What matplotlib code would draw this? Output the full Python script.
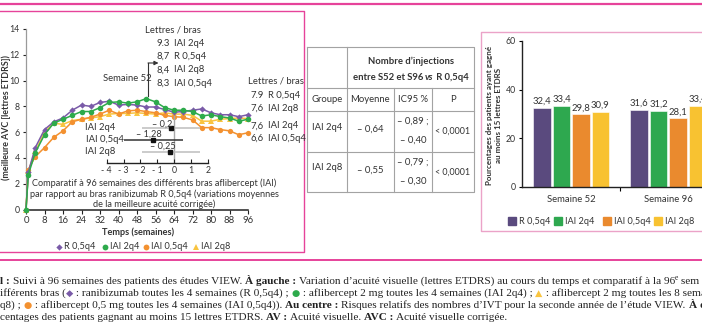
import matplotlib
matplotlib.use('Agg')
import matplotlib.pyplot as plt

W, H, DPI = 702, 336, 100

# ---------------- data ----------------
weeks = [0, 1, 4, 8, 12, 16, 20, 24, 28, 32, 36, 40, 44, 48, 52, 56, 60, 64, 68, 72, 76, 80, 84, 88, 92, 96]
r_05q4 = [0, 2.9, 4.8, 6.2, 6.8, 7.1, 7.7, 8.1, 8.0, 8.3, 8.4, 8.1, 8.15, 8.1, 7.95, 7.95, 7.75, 7.55, 7.6, 7.7, 7.8, 7.5, 7.35, 7.35, 7.2, 7.35]
iai_2q4 = [0, 2.7, 4.4, 5.8, 6.7, 7.0, 7.3, 7.6, 7.6, 7.9, 8.3, 8.35, 8.25, 8.35, 8.6, 8.35, 7.9, 7.7, 7.7, 7.6, 7.25, 7.35, 7.2, 7.1, 6.85, 7.0]
iai_05q4 = [0, 3.1, 4.1, 4.8, 5.6, 6.1, 6.8, 7.0, 7.15, 7.4, 7.7, 7.4, 7.65, 7.7, 7.6, 7.5, 7.3, 7.2, 7.15, 6.95, 6.35, 6.35, 6.2, 6.1, 5.8, 5.95]
iai_2q8 = [0, 3.0, 4.5, 6.0, 6.7, 6.6, 6.9, 7.0, 7.1, 7.2, 7.4, 7.45, 7.45, 7.5, 7.45, 7.4, 7.5, 7.4, 7.4, 7.3, 6.85, 6.85, 7.0, 7.05, 7.1, 7.05]
line_ticks = [0, 8, 16, 24, 32, 40, 48, 56, 64, 72, 80, 88, 96]

forest_labels = ['IAI 2q4', 'IAI 0,5q4', 'IAI 2q8']
forest_est = [-0.2, -1.28, -0.25]
forest_lo = [-1.9, -3.0, -1.9]
forest_hi = [1.5, 0.5, 1.5]
forest_text = ['– 0,2', '– 1,28', '– 0,25']
forest_ticks = [-4, -3, -2, -1, 0, 1, 2]
forest_ticklabels = ['- 4', '- 3', '- 2', '- 1', '0', '1', '2']

bar_groups = ['Semaine 52', 'Semaine 96']
bar_names = ['R 0,5q4', 'IAI 2q4', 'IAI 0,5q4', 'IAI 2q8']
bar_r_05q4 = [32.4, 31.6]
bar_iai_2q4 = [33.4, 31.2]
bar_iai_05q4 = [29.8, 28.1]
bar_iai_2q8 = [30.9, 33.4]

# ---------------- style ----------------
FONT = 'Lato'
SERIF = ['Liberation Serif', 'DejaVu Sans']
TXT = '#333333'
CAP_TXT = '#222222'
PINK = '#E6439A'
PINK_L = '#EBA3C8'
GRID = '#a3a3a3'
C_LINE = {'R': '#7A5BA8', 'G': '#2DAA4B', 'O': '#F39130', 'Y': '#F9C440'}
C_BAR = ['#5A4A7E', '#2EA84F', '#EA8A2E', '#F8C231']
plt.rcParams['font.family'] = [FONT, 'DejaVu Sans']

fig = plt.figure(figsize=(W / DPI, H / DPI), dpi=DPI)
fig.patch.set_facecolor('white')


def px_axes(l, t, r, b, z=1):
    ax = fig.add_axes([l / W, 1 - b / H, (r - l) / W, (b - t) / H], zorder=z)
    ax.patch.set_alpha(0)
    return ax


ov = px_axes(0, 0, W, H, z=0)
ov.set_xlim(0, W)
ov.set_ylim(H, 0)
ov.axis('off')
renderer = fig.canvas.get_renderer()


def rich(x, y, segs, base=None, center=False):
    base = base or {}

    def draw(x0, keep):
        x = x0
        for s, kw in segs:
            opts = dict(base)
            dy = kw.get('dy', 0)
            opts.update({k: v for k, v in kw.items() if k != 'dy'})
            t = ov.text(x, y + dy, s, ha='left', va='baseline', **opts)
            bb = t.get_window_extent(renderer)
            x += bb.width * (W / fig.bbox.width)
            if not keep:
                t.remove()
        return x

    if center:
        total = draw(0, False)
        x = x - total / 2
    return draw(x, True)


# frames
ov.plot([0, W], [4, 4], color=PINK, lw=1.6)
ov.plot([-3, 303.5, 303.5, -3], [11, 11, 252, 252], color=PINK, lw=1.0)
ov.plot([0, W], [259.5, 259.5], color=PINK, lw=1.4)
ov.plot([712, 480.5, 480.5, 712], [32, 32, 231, 231], color=PINK_L, lw=1.0)

# ---------------- line chart ----------------
ax = px_axes(26, 29, 248, 209.5, z=2)
ax.set_xlim(0, 96)
ax.set_ylim(0, 14)
for s in ['top', 'right']:
    ax.spines[s].set_visible(False)
ax.spines['left'].set_color('#9a9a9a')
ax.spines['left'].set_linewidth(0.9)
ax.spines['bottom'].set_color('#222222')
ax.spines['bottom'].set_linewidth(1.1)
ax.set_yticks(range(0, 15, 2))
ax.set_xticks(line_ticks)
ax.tick_params(axis='y', length=2.5, width=0.8, color='#222222', labelsize=6.3, labelcolor=TXT, pad=2)
ax.tick_params(axis='x', length=3, width=0.8, color='#222222', labelsize=6.8, labelcolor=TXT, pad=2)

series = [
    (iai_2q8, C_LINE['Y'], '^', 4.2, 2),
    (iai_05q4, C_LINE['O'], 'o', 3.8, 3),
    (r_05q4, C_LINE['R'], 'D', 3.2, 4),
    (iai_2q4, C_LINE['G'], 'o', 4.0, 5),
]
for vals, col, mk, ms, z in series:
    ax.plot(weeks, vals, color=col, marker=mk, ms=ms, lw=1.1, clip_on=False, zorder=z,
            markeredgewidth=0)

ov.text(6, 117, '(meilleure AVC [lettres ETDRS])', rotation=90, ha='center', va='center',
        fontsize=6.4, fontweight='bold', color=TXT)

# annotations
ov.text(173, 30, 'Lettres / bras', ha='center', va='center', fontsize=6.8, color=TXT)
for y, num, lab in [(43, '9.3', 'IAI 2q4'), (56.5, '8,7', 'R 0,5q4'), (70, '8,4', 'IAI 2q8'), (83.5, '8,3', 'IAI 0,5q4')]:
    ov.text(170, y, num, ha='right', va='center', fontsize=6.8, color=TXT)
    ov.text(173.5, y, lab, ha='left', va='center', fontsize=6.8, color=TXT)
ov.text(152, 78.5, 'Semaine 52', ha='right', va='center', fontsize=6.8, color=TXT)
ov.plot([148.3, 148.3], [96, 63], color=TXT, lw=0.8)
ov.annotate('', xy=(158.5, 63), xytext=(148.0, 63),
            arrowprops=dict(arrowstyle='-|>', color=TXT, lw=0.8, mutation_scale=6, shrinkA=0, shrinkB=0))

ov.text(276, 81, 'Lettres / bras', ha='center', va='center', fontsize=6.8, color=TXT)
for y, num, lab in [(95, '7.9', 'R 0,5q4'), (108.5, '7,6', 'IAI 2q8'), (126, '7,6', 'IAI 2q4'), (138.5, '6,6', 'IAI 0,5q4')]:
    ov.text(264, y, num, ha='right', va='center', fontsize=6.8, color=TXT)
    ov.text(267.5, y, lab, ha='left', va='center', fontsize=6.8, color=TXT)

for y, s in [(183.5, 'Comparatif à 96 semaines des différents bras aflibercept (IAI)'),
             (194, 'par rapport au bras ranibizumab R 0,5q4 (variations moyennes'),
             (204, 'de la meilleure acuité corrigée)')]:
    ov.text(154, y, s, ha='center', va='center', fontsize=6.6, color=TXT)

ov.text(138, 232, 'Temps (semaines)', ha='center', va='center', fontsize=6.6, fontweight='bold', color=TXT)

# legend (line chart)
leg_items = [(59, 'D', C_LINE['R'], 3.2, 'R 0,5q4'), (105, 'o', C_LINE['G'], 4.2, 'IAI 2q4'),
             (145.7, 'o', C_LINE['O'], 4.2, 'IAI 0,5q4'), (196, '^', C_LINE['Y'], 4.4, 'IAI 2q8')]
for x, mk, col, ms, lab in leg_items:
    ov.plot([x], [246.5], marker=mk, color=col, ms=ms, markeredgewidth=0, ls='none')
    ov.text(x + 5, 246.5, lab, ha='left', va='center', fontsize=6.6, color=TXT)

# ---------------- forest inset ----------------
fx = px_axes(106.7, 115, 208, 163.3, z=3)
fx.set_xlim(-4, 2)
fx.set_ylim(2.98, -1.097)
for s in ['top', 'right', 'left']:
    fx.spines[s].set_visible(False)
fx.spines['bottom'].set_color('#222222')
fx.spines['bottom'].set_linewidth(1.0)
fx.set_yticks([])
fx.set_xticks(forest_ticks)
fx.set_xticklabels(forest_ticklabels)
fx.tick_params(axis='x', direction='in', length=3, width=0.8, color='#222222', labelsize=6.3,
               labelcolor=TXT, pad=2)
fx.axvline(0, ymin=0, ymax=0.97, color='#a8a8a8', lw=1.0, zorder=1)
rows = list(range(len(forest_labels)))
ci_cols = ['#bdbdbd', '#333333', '#bdbdbd']
for i in rows:
    fx.plot([forest_lo[i], forest_hi[i]], [i, i], color=ci_cols[i], lw=1.1, zorder=2, solid_capstyle='butt')
fx.plot(forest_est, rows, ls='none', marker='s', ms=2.6, color='#111111', zorder=3)
label_x = [-3.48, -3.0, -3.48]
for i in rows:
    fx.text(label_x[i], i, forest_labels[i], ha='right', va='center', fontsize=6.8, color=TXT)
text_dx = [-0.5, -0.24, -0.44]
text_dy = [-0.35, -0.45, -0.5]
for i in rows:
    fx.text(forest_est[i] + text_dx[i], i + text_dy[i], forest_text[i], ha='center', va='center',
            fontsize=6.6, color=TXT)

# ---------------- table ----------------
TL, TR, TT, TB = 307.3, 474, 47.3, 191.7
hlines = [87.7, 110.7, 151.7]
ov.plot([TL, TR, TR, TL, TL], [TT, TT, TB, TB, TT], color=GRID, lw=0.8)
for y in hlines:
    ov.plot([TL, TR], [y, y], color=GRID, lw=0.8)
ov.plot([346.7, 346.7], [TT, TB], color=GRID, lw=0.8)
for x in [394, 432.3]:
    ov.plot([x, x], [87.7, TB], color=GRID, lw=0.8)
HB = dict(fontsize=6.8, fontweight='bold', color=TXT)
rich(410.5, 63.5, [("Nombre d’injections", {})], base=HB, center=True)
rich(410.5, 80, [('entre S52 et S96 ', {}), ('vs', {'style': 'italic'}), (' R 0,5q4', {})], base=HB, center=True)
for x, s in [(327, 'Groupe'), (370.3, 'Moyenne'), (413.2, 'IC95 %'), (453, 'P')]:
    ov.text(x, 100, s, ha='center', va='center', fontsize=6.8, color=TXT)
for yc, g, m, lo, hi in [(131.2, 'IAI 2q4', '– 0,64', '– 0,89 ;', '– 0,40'),
                         (171.7, 'IAI 2q8', '– 0,55', '– 0,79 ;', '– 0,30')]:
    ov.text(327, yc - 4, g, ha='center', va='center', fontsize=6.8, color=TXT)
    ov.text(370.3, yc - 2, m, ha='center', va='center', fontsize=6.8, color=TXT)
    ov.text(413.2, yc - 10, lo, ha='center', va='center', fontsize=6.8, color=TXT)
    ov.text(413.2, yc + 9, hi, ha='center', va='center', fontsize=6.8, color=TXT)
    ov.text(453, yc, '< 0,0001', ha='center', va='center', fontsize=6.4, color=TXT)

# ---------------- bar chart ----------------
bx = px_axes(522.3, 41, 717, 186.7, z=2)
bx.set_xlim(-0.503, 1.5)
bx.set_ylim(0, 60)
for s in ['top', 'right']:
    bx.spines[s].set_visible(False)
for s in ['left', 'bottom']:
    bx.spines[s].set_color('#222222')
    bx.spines[s].set_linewidth(1.0)
bx.set_yticks([0, 20, 40, 60])
bx.tick_params(axis='y', length=2.5, width=0.8, labelsize=6.3, labelcolor=TXT, pad=2)
bx.set_xticks([0.5])
bx.set_xticklabels([''])
bx.tick_params(axis='x', which='major', length=3, width=0.8)
bx.set_xticks([0, 1], minor=True)
bx.set_xticklabels(bar_groups, minor=True)
bx.tick_params(axis='x', which='minor', length=0, labelsize=6.8, labelcolor=TXT, pad=6)
step, width = 0.2006, 0.18
all_bars = [bar_r_05q4, bar_iai_2q4, bar_iai_05q4, bar_iai_2q8]
for k, vals in enumerate(all_bars):
    xs = [g + (k - 1.5) * step for g in range(len(bar_groups))]
    bx.bar(xs, vals, width=width, color=C_BAR[k], edgecolor='white', linewidth=0.4, clip_on=False)
    for x, v in zip(xs, vals):
        bx.text(x, v + 0.8, f'{v:.1f}'.replace('.', ','), ha='center', va='bottom', fontsize=6.8, color=TXT)

ov.text(494, 115, 'Pourcentages des patients ayant gagné\nau moins 15 lettres ETDRS', rotation=90,
        ha='center', va='center', fontsize=5.8, fontweight='bold', color=TXT, linespacing=1.25)
for x, lab, col in [(511.7, 'R 0,5q4', C_BAR[0]), (558, 'IAI 2q4', C_BAR[1]),
                    (606.7, 'IAI 0,5q4', C_BAR[2]), (658, 'IAI 2q8', C_BAR[3])]:
    ov.add_patch(plt.Rectangle((x - 4, 217), 8, 8, color=col))
    ov.text(x + 7, 221, lab, ha='left', va='center', fontsize=6.6, color=TXT)

# ---------------- caption ----------------
CAP_FS = 8.1
CAP = dict(fontsize=CAP_FS, color=CAP_TXT, family=SERIF)
B = {'fontweight': 'bold'}
N = {}
SYM = lambda c: {'color': c, 'family': ['DejaVu Sans'], 'fontsize': CAP_FS - 1.3}
rich(0, 284, [('l : ', B), ('Suivi à 96 semaines des patients des études VIEW. ', N), ('À gauche : ', B),
              ('Variation d’acuité visuelle (lettres ETDRS) au cours du temps et comparatif à la 96', N),
              ('e', {'fontsize': CAP_FS - 2.6, 'dy': -3.6}), (' sem', N)], base=CAP)
rich(0, 296, [('ifférents bras (', N), ('◆', SYM(C_LINE['R'])), (' : ranibizumab toutes les 4 semaines (R 0,5q4) ; ', N),
              ('●', SYM(C_LINE['G'])), (' : aflibercept 2 mg toutes les 4 semaines (IAI 2q4) ; ', N),
              ('▲', SYM(C_LINE['Y'])), (' : aflibercept 2 mg toutes les 8 sema', N)], base=CAP)
rich(0, 308, [('q8) ; ', N), ('●', SYM(C_LINE['O'])), (' : aflibercept 0,5 mg toutes les 4 semaines (IAI 0,5q4)). ', N),
              ('Au centre : ', B), ('Risques relatifs des nombres d’IVT pour la seconde année de l’étude VIEW. ', N),
              ('À dr', B)], base=CAP)
rich(0, 320, [('centages des patients gagnant au moins 15 lettres ETDRS. ', N), ('AV : ', B), ('Acuité visuelle. ', N),
              ('AVC : ', B), ('Acuité visuelle corrigée.', N)], base=CAP)

fig.savefig('out.png', dpi=DPI, facecolor='white')
